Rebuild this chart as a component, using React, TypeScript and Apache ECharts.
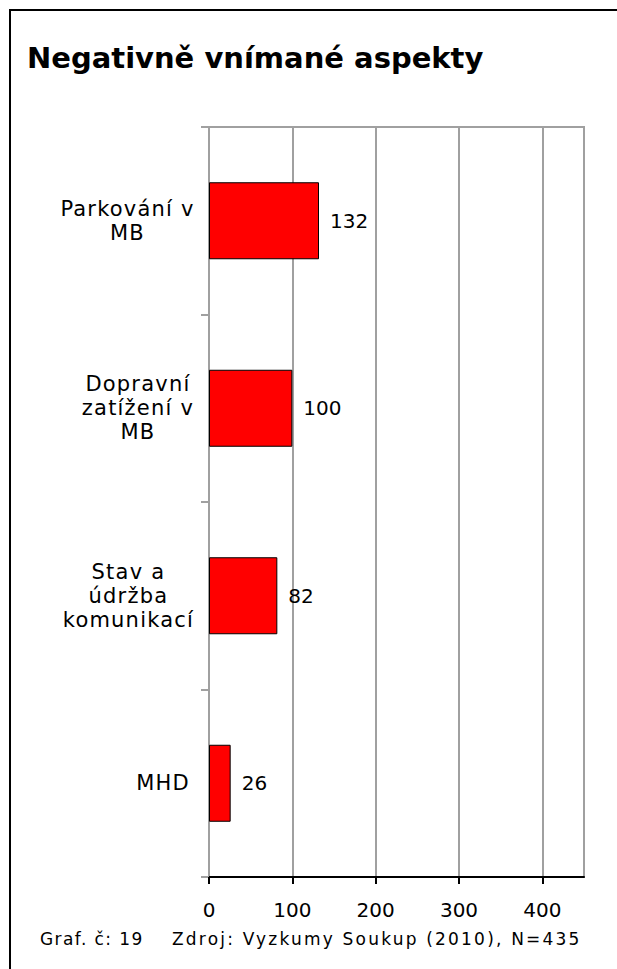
import { useEffect, useRef } from 'react';
import * as echarts from 'echarts';

const titleText = 'Negativně vnímané aspekty';
const categories = ['Parkování v\nMB', 'Dopravní\nzatížení v\nMB', 'Stav a\núdržba\nkomunikací', 'MHD'];
const values = [132, 100, 82, 26];
const xTickValues = [0, 100, 200, 300, 400];
const xMin = 0;
const xMax = 450;
const xInterval = 100;
const noteLeft = 'Graf. č: 19';
const noteRight = 'Zdroj: Vyzkumy Soukup (2010), N=435';

const FONT = '"DejaVu Sans", Verdana, sans-serif';

export default function App() {
  const ref = useRef<HTMLDivElement>(null);

  useEffect(() => {
    const el = ref.current;
    if (!el) return;
    const chart = echarts.init(el, null, { renderer: 'svg' });
    chart.setOption({
      animation: false,
      backgroundColor: '#ffffff',
      textStyle: { fontFamily: FONT },
      grid: {
        left: 209,
        right: 33,
        top: 127,
        bottom: 92,
        show: true,
        borderColor: '#A0A0A0',
        borderWidth: 2,
        backgroundColor: 'transparent',
      },
      xAxis: {
        type: 'value',
        min: xMin,
        max: xMax,
        interval: xInterval,
        position: 'bottom',
        axisLine: { show: true, lineStyle: { color: '#000', width: 2 } },
        axisTick: {
          show: true,
          customValues: xTickValues,
          length: 7,
          lineStyle: { color: '#000', width: 2 },
        },
        axisLabel: {
          customValues: xTickValues,
          margin: 23,
          fontSize: 20,
          color: '#000',
          fontFamily: FONT,
        },
        splitLine: { show: true, lineStyle: { color: '#A0A0A0', width: 2 } },
      },
      yAxis: {
        type: 'category',
        data: categories,
        inverse: true,
        axisLine: { show: true, lineStyle: { color: '#A0A0A0', width: 2 } },
        axisTick: { show: true, length: 8, lineStyle: { color: '#A0A0A0', width: 2 } },
        splitLine: { show: false },
        axisLabel: {
          align: 'right',
          margin: 21,
          color: '#000',
          formatter: (v: string) => v.split('\n').map((l) => `{c|${l}}`).join('\n'),
          rich: {
            c: { align: 'center', fontSize: 21, lineHeight: 24, color: '#000', fontFamily: FONT },
          },
        },
      },
      series: [
        {
          type: 'bar',
          data: values,
          barWidth: 77,
          itemStyle: { color: '#FF0000', borderColor: '#000', borderWidth: 1 },
          label: {
            show: true,
            position: 'right',
            distance: 11,
            fontSize: 20,
            color: '#000',
            fontFamily: FONT,
          },
        },
      ],
      graphic: [
        {
          type: 'line',
          silent: true,
          shape: { x1: 10, y1: 10, x2: 617, y2: 10 },
          style: { stroke: '#000', lineWidth: 2 },
        },
        {
          type: 'line',
          silent: true,
          shape: { x1: 10, y1: 9, x2: 10, y2: 969 },
          style: { stroke: '#000', lineWidth: 2 },
        },
        {
          type: 'text',
          left: 27,
          top: 43,
          style: { text: titleText, fontSize: 29, fontWeight: 'bold', fill: '#000', fontFamily: FONT },
        },
        {
          type: 'text',
          x: 40,
          y: 939,
          style: { text: noteLeft, fontSize: 17, fill: '#000', fontFamily: FONT, verticalAlign: 'middle' },
        },
        {
          type: 'text',
          x: 172,
          y: 939,
          style: { text: noteRight, fontSize: 17, fill: '#000', fontFamily: FONT, verticalAlign: 'middle' },
        },
      ],
    });

    const catLines = new Set<string>();
    categories.forEach((c) => c.split('\n').forEach((l) => catLines.add(l)));

    const spaceOut = () => {
      el.querySelectorAll('text').forEach((t) => {
        const s = t.textContent || '';
        if (s === noteLeft) t.setAttribute('letter-spacing', '1.4');
        else if (s === noteRight) t.setAttribute('letter-spacing', '2.2');
        else if (catLines.has(s)) t.setAttribute('letter-spacing', '1.2');
      });
    };
    spaceOut();
    chart.on('finished', spaceOut);

    return () => {
      chart.dispose();
    };
  }, []);

  return (
    <div style={{ position: 'fixed', left: 0, top: 0, width: 617, height: 969, background: '#fff', overflow: 'hidden' }}>
      <div ref={ref} style={{ width: 617, height: 969 }} />
    </div>
  );
}
